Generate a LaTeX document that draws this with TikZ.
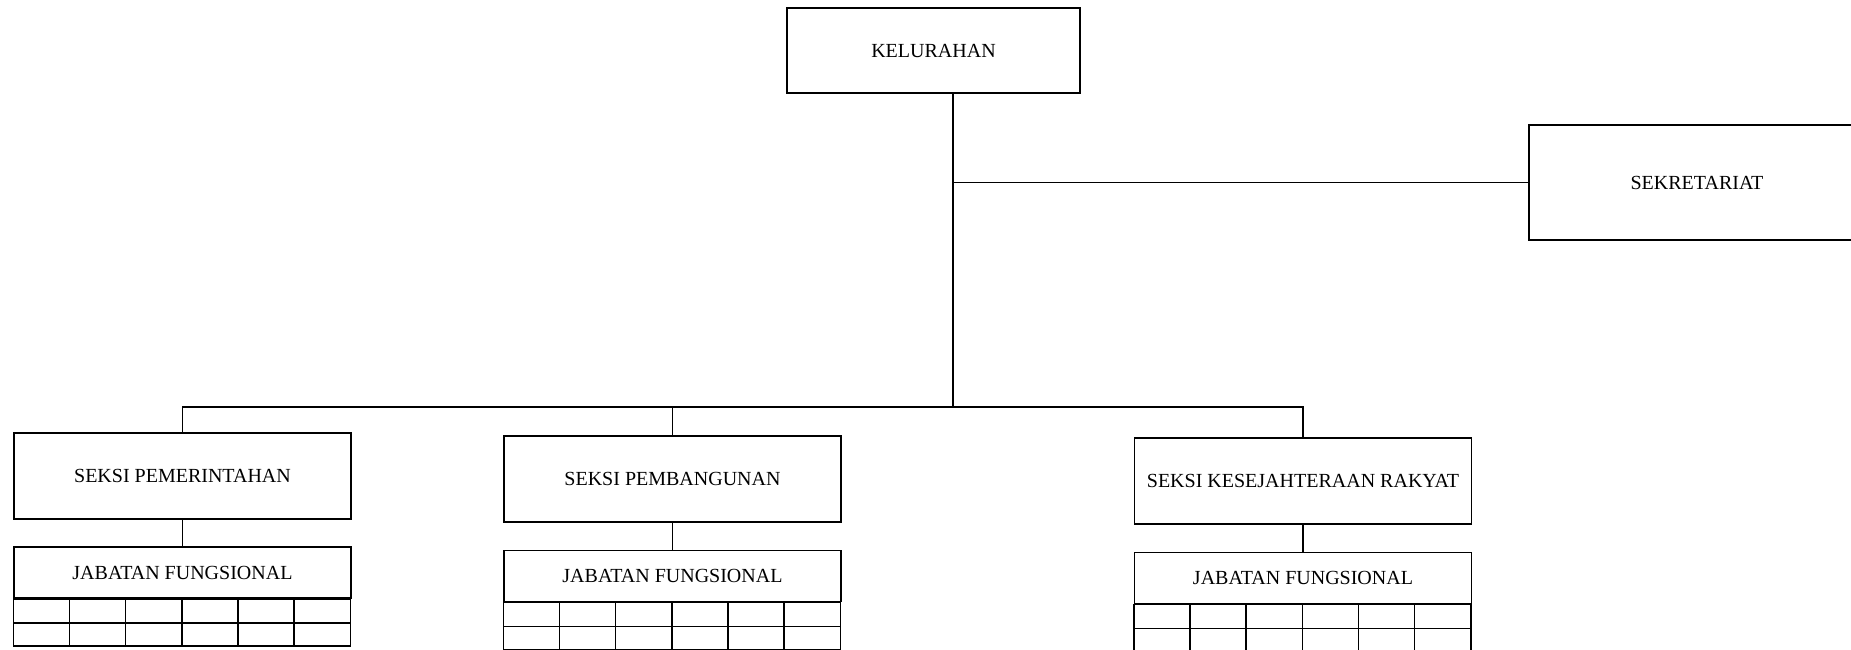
\documentclass[tikz,border=0pt]{standalone}
\usepackage{fontspec}
\setmainfont{Liberation Serif}
\begin{document}
\begin{tikzpicture}[x=1pt,y=-1pt,line width=1.5pt,
  box/.style={draw,line width=1.5pt,inner sep=0pt,align=center,
    font=\fontsize{20}{20}\selectfont},
  seksi/.style={box,minimum width=337pt,minimum height=86pt},
  jab/.style={box,minimum width=337pt,minimum height=51pt},
  link/.style={draw,line width=1.5pt}]
\useasboundingbox (0,0) rectangle (1851,649);
% nodes
\node[box,minimum width=293pt,minimum height=85pt] (kel) at (933.5,50.5) {KELURAHAN};
\node[box,minimum width=336pt,minimum height=115pt] (sek) at (1697,182.5) {SEKRETARIAT};
\node[seksi] (pem) at (182.5,476) {SEKSI PEMERINTAHAN};
\node[seksi] (pemb) at (672.5,479) {SEKSI PEMBANGUNAN};
\node[seksi] (kes) at (1303,481) {SEKSI KESEJAHTERAAN RAKYAT};
\node[jab] (jP) at (182.5,572.5) {JABATAN FUNGSIONAL};
\node[jab] (jB) at (672.5,576) {JABATAN FUNGSIONAL};
\node[jab] (jK) at (1303,578) {JABATAN FUNGSIONAL};
\coordinate (bus) at (953,407);
% connectors
\draw[link] (kel.south -| bus) -- (bus);
\draw[link] (bus |- sek.west) -- (sek.west);
\draw[link] (pem.north) |- (bus) -| (kes.north);
\draw[link] (pemb.north) -- (pemb.north |- bus);
\draw[link] (pem.south) -- (jP.north);
\draw[link] (pemb.south) -- (jB.north);
\draw[link] (kes.south) -- (jK.north);
% grids under the jabatan headers
\foreach \n in {jP,jB,jK}{
  \draw (\n.south west) rectangle ++(337,47);
  \draw (\n.south west) ++(0,24) -- ++(337,0);
  \foreach \i in {1,...,5}
    \draw (\n.south west) ++({56.17*\i},0) -- ++(0,47);
}
\end{tikzpicture}
\end{document}
